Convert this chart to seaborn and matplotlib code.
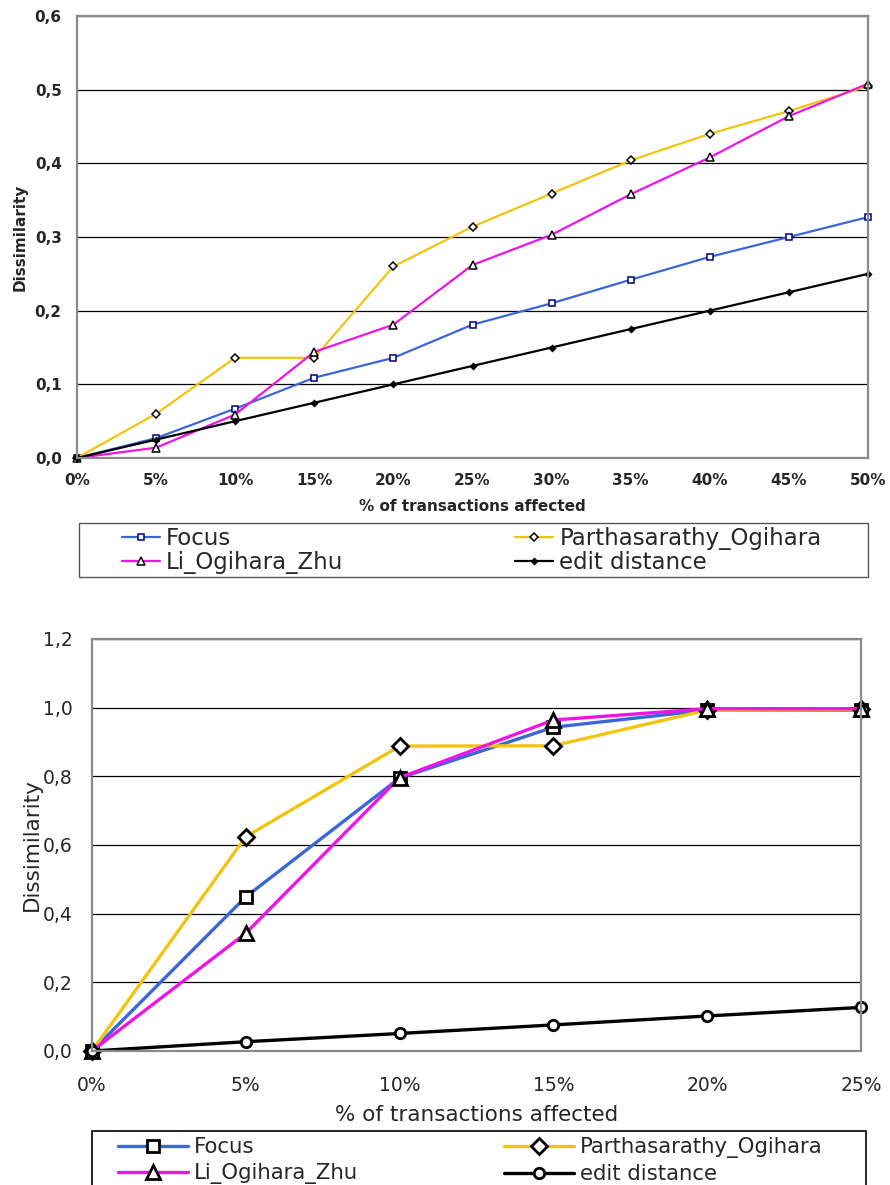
import numpy as np
import pandas as pd
import matplotlib
matplotlib.use('Agg')
import matplotlib.pyplot as plt
import seaborn as sns
from matplotlib.patches import Rectangle
from matplotlib.ticker import FuncFormatter, MultipleLocator

# --- data, top chart (0..50% of transactions)
pct_top = [0, 5, 10, 15, 20, 25, 30, 35, 40, 45, 50]
focus_top = [0.0, 0.027, 0.067, 0.109, 0.136, 0.181, 0.210, 0.242, 0.273, 0.300, 0.327]
parth_top = [0.0, 0.060, 0.136, 0.136, 0.260, 0.314, 0.359, 0.404, 0.440, 0.471, 0.505]
li_top = [0.0, 0.014, 0.059, 0.144, 0.181, 0.262, 0.303, 0.358, 0.408, 0.464, 0.508]
edit_top = [0.0, 0.025, 0.050, 0.075, 0.100, 0.125, 0.150, 0.175, 0.200, 0.225, 0.250]

# --- data, bottom chart (0..25%)
pct_bot = [0, 5, 10, 15, 20, 25]
focus_bot = [0.0, 0.449, 0.795, 0.943, 0.993, 0.993]
parth_bot = [0.0, 0.624, 0.888, 0.889, 0.993, 0.995]
li_bot = [0.0, 0.343, 0.796, 0.964, 0.997, 0.997]
edit_bot = [0.0, 0.027, 0.051, 0.076, 0.102, 0.127]

names = ['Focus', 'Parthasarathy_Ogihara', 'Li_Ogihara_Zhu', 'edit distance']
colors = {'Focus': '#3A66D6', 'Parthasarathy_Ogihara': '#F2C40F',
          'Li_Ogihara_Zhu': '#EE14E8', 'edit distance': '#000000'}

sns.set_style('white')
plt.rcParams['font.family'] = ['DejaVu Sans']

fig = plt.figure(figsize=(8.9, 11.85), dpi=100)
W, H = 890, 1185


def fig_ax(x0, y0, x1, y1):
    # pixel box -> figure axes
    return fig.add_axes([x0 / W, 1 - y1 / H, (x1 - x0) / W, (y1 - y0) / H])


def style_axes(ax, ymax, ystep, xmax, tick_fs, bold, lab_fs):
    ax.set_xlim(0, xmax)
    ax.set_ylim(0, ymax)
    ax.set_axisbelow(True)
    ax.xaxis.set_major_locator(MultipleLocator(5))
    ax.yaxis.set_major_locator(MultipleLocator(ystep))
    ax.yaxis.set_major_formatter(FuncFormatter(lambda v, p: f'{v:.1f}'.replace('.', ',')))
    ax.xaxis.set_major_formatter(FuncFormatter(lambda v, p: f'{int(round(v))}%'))
    ax.yaxis.grid(True, color='black', lw=0.9)
    ax.xaxis.grid(False)
    for s in ax.spines.values():
        s.set_color('#8a8a8a')
        s.set_linewidth(1.6)
        s.set_visible(True)
    ax.tick_params(axis='both', direction='out', length=4, color='#8a8a8a', width=1.2,
                   labelsize=tick_fs)
    wt = 'bold' if bold else 'normal'
    for t in ax.get_xticklabels() + ax.get_yticklabels():
        t.set_fontweight(wt)
    ax.set_xlabel('% of transactions affected', fontsize=lab_fs, fontweight=wt)
    ax.set_ylabel('Dissimilarity', fontsize=lab_fs, fontweight=wt)


# ---------------- top chart
ax1 = fig_ax(77, 16, 868, 458)
top_vals = {'Focus': focus_top, 'Parthasarathy_Ogihara': parth_top,
            'Li_Ogihara_Zhu': li_top, 'edit distance': edit_top}
top_mk = {'Focus': ('s', 4.5, '#000080', 'white'),
          'Parthasarathy_Ogihara': ('D', 4.0, 'black', 'white'),
          'Li_Ogihara_Zhu': ('^', 5.5, 'black', 'white'),
          'edit distance': ('D', 3.0, 'black', 'black')}
for n in names:
    m, ms, mec, mfc = top_mk[n]
    sns.lineplot(x=pct_top, y=top_vals[n], ax=ax1, color=colors[n], lw=1.6,
                 marker=m, ms=ms, mec=mec, mfc=mfc, mew=1.1, label=n,
                 legend=False, clip_on=False)
style_axes(ax1, 0.6, 0.1, 50, 11, True, 11)
ax1.tick_params(axis='x', pad=7)
ax1.tick_params(axis='y', pad=7)
ax1.xaxis.labelpad = 8
ax1.yaxis.set_label_coords(-0.063, 0.5)

h1 = {l.get_label(): l for l in ax1.get_lines() if l.get_label() in names}
order = ['Focus', 'Li_Ogihara_Zhu', 'Parthasarathy_Ogihara', 'edit distance']
fig.add_artist(Rectangle((79 / W, 1 - 577 / H), 789 / W, 54 / H, transform=fig.transFigure,
                         fill=False, ec='#555555', lw=1.0))
fig.legend([h1[n] for n in order], order, loc='upper left',
           bbox_to_anchor=(122 / W, 1 - 527 / H), ncol=2, frameon=False,
           prop={'family': 'DejaVu Sans', 'size': 16.5},
           handlelength=1.66, handletextpad=0.26, columnspacing=7.5,
           labelspacing=0.05, borderaxespad=0, borderpad=0)

# ---------------- bottom chart
ax2 = fig_ax(92, 639, 861, 1051)
bot_vals = {'Focus': focus_bot, 'Parthasarathy_Ogihara': parth_bot,
            'Li_Ogihara_Zhu': li_bot, 'edit distance': edit_bot}
bot_mk = {'Focus': ('s', 8, 'black'),
          'Parthasarathy_Ogihara': ('D', 8, 'black'),
          'Li_Ogihara_Zhu': ('^', 10, 'black'),
          'edit distance': ('o', 7.5, 'black')}
for n in names:
    m, ms, mec = bot_mk[n]
    sns.lineplot(x=pct_bot, y=bot_vals[n], ax=ax2, color=colors[n], lw=2.4,
                 marker=m, ms=ms, mec=mec, mfc='white', mew=2.0, label=n,
                 legend=False, clip_on=False)
style_axes(ax2, 1.2, 0.2, 25, 13.5, False, 15.5)
ax2.yaxis.set_label_coords(-0.065, 0.5)
ax2.tick_params(axis='x', pad=14)
ax2.tick_params(axis='y', pad=10)
ax2.xaxis.labelpad = 7

h2 = {l.get_label(): l for l in ax2.get_lines() if l.get_label() in names}
fig.add_artist(Rectangle((92 / W, 1 - 1200 / H), 774 / W, 69 / H, transform=fig.transFigure,
                         fill=False, ec='black', lw=1.2))
fig.legend([h2[n] for n in order], order, loc='upper left',
           bbox_to_anchor=(118 / W, 1 - 1137 / H), ncol=2, frameon=False,
           prop={'family': 'DejaVu Sans', 'size': 15.3},
           handlelength=3.3, handletextpad=0.28, columnspacing=6.87,
           labelspacing=0.3, borderaxespad=0, borderpad=0)

fig.savefig('out.png', dpi=100)
